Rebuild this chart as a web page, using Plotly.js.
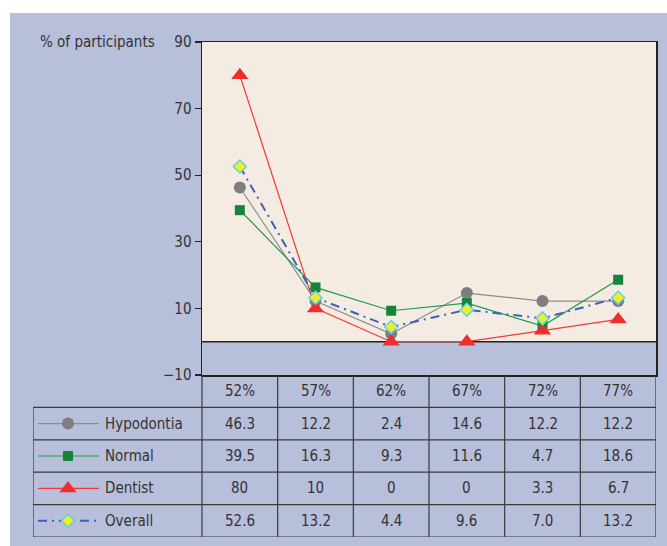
<!DOCTYPE html>
<html>
<head>
<meta charset="utf-8">
<script src="https://cdn.plot.ly/plotly-3.0.1.min.js"></script>
<style>html,body{margin:0;padding:0;background:#fff;}#chart{width:667px;height:546px;}</style>
</head>
<body>
<div id="chart"></div>
<script>
// ---- data ----
var categories = ['52%', '57%', '62%', '67%', '72%', '77%'];
var seriesNames = ['Hypodontia', 'Normal', 'Dentist', 'Overall'];
var hypodontia = [46.3, 12.2, 2.4, 14.6, 12.2, 12.2];
var normal = [39.5, 16.3, 9.3, 11.6, 4.7, 18.6];
var dentist = [80, 10, 0, 0, 3.3, 6.7];
var overall = [52.6, 13.2, 4.4, 9.6, 7.0, 13.2];
var yTickVals = [90, 70, 50, 30, 10, -10];
var yAxisLabel = '% of participants';

// ---- styles ----
var FONT = '"Liberation Sans Narrow", "DejaVu Sans Condensed", "Open Sans", sans-serif';
var TXT = '#333333';
var LAV = '#b8bfdb';
var BEIGE = '#f4ece2';
var GRID = '#3a3a3a';
var styles = [
  {line: {color: '#8c8c8c', width: 1.2}, marker: {symbol: 'circle', size: 12, color: '#7d7d82'}},
  {line: {color: '#1f9a4a', width: 1.2}, marker: {symbol: 'square', size: 10, color: '#17843c'}},
  {line: {color: '#f03a3a', width: 1.2}, marker: {symbol: 'triangle-up', size: 15, color: '#ee2e2e'}},
  {line: {color: '#3d62b8', width: 2, dash: '9px,5px,2px,5px'}, marker: {symbol: 'diamond', size: 10, color: '#f0ee2a', line: {color: '#5fd0e6', width: 1.5}}}
];
var seriesData = [hypodontia, normal, dentist, overall];
var decimals = [1, 1, null, 1];

// geometry (pixel layout)
var W = 667, H = 546;
var mL = 33, mR = 11, mT = 42, mB = 9;
var plotW = W - mL - mR, plotH = H - mT - mB;
var axisLeftPx = 202, chartBottomPx = 375;
var xDom0 = (axisLeftPx - mL) / plotW;
var yDom0 = (H - mB - chartBottomPx) / plotH;
var colPx = (W - mR - axisLeftPx) / categories.length;
var x2Left = -0.5 - (axisLeftPx - mL) / colPx;
function pxToX2(px) { return -0.5 + (px - axisLeftPx) / colPx; }
function pxToPaperX(px) { return (px - mL) / plotW; }
function pxToPaperY(py) { return (H - mB - py) / plotH; }

var traces = [];
seriesData.forEach(function (vals, i) {
  traces.push({
    type: 'scatter', mode: 'lines+markers', name: seriesNames[i],
    x: categories, y: vals, xaxis: 'x', yaxis: 'y',
    line: styles[i].line, marker: styles[i].marker, cliponaxis: false, showlegend: false
  });
});
// legend samples inside the table
var nRows = seriesNames.length;
seriesNames.forEach(function (n, i) {
  var yRow = i + 1;
  traces.push({
    type: 'scatter', mode: 'lines', x: [pxToX2(38), pxToX2(99)], y: [yRow, yRow],
    xaxis: 'x2', yaxis: 'y2', line: styles[i].line, showlegend: false, hoverinfo: 'skip'
  });
  traces.push({
    type: 'scatter', mode: 'markers', x: [pxToX2(68)], y: [yRow],
    xaxis: 'x2', yaxis: 'y2', marker: styles[i].marker, showlegend: false, hoverinfo: 'skip'
  });
});

var shapes = [];
// outer lavender panel
shapes.push({type: 'rect', xref: 'paper', yref: 'paper', x0: pxToPaperX(10), x1: pxToPaperX(W + 5),
  y0: pxToPaperY(H + 5), y1: pxToPaperY(13), fillcolor: LAV, line: {width: 0}, layer: 'below'});
// beige region 0..90
shapes.push({type: 'rect', xref: 'x domain', yref: 'y', x0: 0, x1: 1, y0: 0, y1: 90,
  fillcolor: BEIGE, line: {width: 0}, layer: 'below'});
// zero line
shapes.push({type: 'line', xref: 'x domain', yref: 'y', x0: 0, x1: 1, y0: 0, y1: 0,
  line: {color: '#222', width: 1.5}, layer: 'below'});
// table grid
for (var c = 0; c <= categories.length; c++) {
  shapes.push({type: 'line', xref: 'x2', yref: 'y2', x0: c - 0.5, x1: c - 0.5, y0: -0.5, y1: nRows + 0.5,
    line: {color: GRID, width: 1.2}});
}
shapes.push({type: 'line', xref: 'x2', yref: 'y2', x0: x2Left, x1: x2Left, y0: 0.5, y1: nRows + 0.5,
  line: {color: GRID, width: 1.2}});
for (var r = 0; r <= nRows; r++) {
  shapes.push({type: 'line', xref: 'x2', yref: 'y2', x0: x2Left, x1: categories.length - 0.5,
    y0: r + 0.5, y1: r + 0.5, line: {color: GRID, width: 1.2}});
}

var annotations = [];
annotations.push({xref: 'paper', yref: 'paper', x: pxToPaperX(157), y: pxToPaperY(42),
  xanchor: 'right', yanchor: 'middle', text: yAxisLabel, showarrow: false,
  font: {family: FONT, size: 15, color: TXT}});
categories.forEach(function (cat, j) {
  annotations.push({xref: 'x2', yref: 'y2', x: j, y: 0, text: cat, showarrow: false,
    font: {family: FONT, size: 15, color: TXT}});
});
seriesNames.forEach(function (n, i) {
  annotations.push({xref: 'x2', yref: 'y2', x: pxToX2(103), y: i + 1, xanchor: 'left', text: n,
    showarrow: false, font: {family: FONT, size: 15, color: TXT}});
  seriesData[i].forEach(function (v, j) {
    var s = decimals[i] === null ? String(v) : v.toFixed(decimals[i]);
    annotations.push({xref: 'x2', yref: 'y2', x: j, y: i + 1, text: s, showarrow: false,
      font: {family: FONT, size: 15, color: TXT}});
  });
});

var layout = {
  width: W, height: H,
  margin: {l: mL, r: mR, t: mT, b: mB, pad: 0},
  paper_bgcolor: '#ffffff', plot_bgcolor: 'rgba(0,0,0,0)',
  showlegend: false,
  xaxis: {domain: [xDom0, 1], type: 'category', range: [-0.5, categories.length - 0.5],
    showticklabels: false, showgrid: false, zeroline: false, showline: true, mirror: true,
    linecolor: '#222', linewidth: 1.5, ticks: ''},
  yaxis: {domain: [yDom0, 1], range: [-10, 90], tickvals: yTickVals, ticktext: yTickVals.map(function (v) { return v < 0 ? '\u2212' + Math.abs(v) : String(v); }),
    showgrid: false, zeroline: false, showline: true, mirror: true, linecolor: '#222', linewidth: 1.5,
    ticks: 'outside', ticklen: 6, tickwidth: 1.2, tickcolor: '#222',
    tickfont: {family: FONT, size: 15, color: TXT}},
  xaxis2: {domain: [0, 1], range: [x2Left, categories.length - 0.5], anchor: 'y2', visible: false, fixedrange: true},
  yaxis2: {domain: [0, yDom0], range: [nRows + 0.5, -0.5], anchor: 'x2', visible: false, fixedrange: true},
  shapes: shapes, annotations: annotations
};

Plotly.newPlot('chart', traces, layout, {displayModeBar: false, staticPlot: true});
</script>
</body>
</html>
